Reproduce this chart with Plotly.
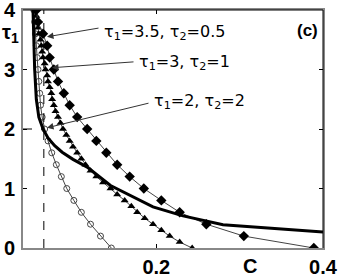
import plotly.graph_objects as go

# tau values for the marker series
tau_02 = [4.0, 3.8, 3.6, 3.4, 3.2, 3.0, 2.8, 2.6, 2.4, 2.2, 2.0,
          1.8, 1.6, 1.4, 1.2, 1.0, 0.8, 0.6, 0.4, 0.2, 0.0]
tau_01 = [4.0, 3.9, 3.8, 3.7, 3.6, 3.5, 3.4, 3.3, 3.2, 3.1, 3.0,
          2.9, 2.8, 2.7, 2.6, 2.5, 2.4, 2.3, 2.2, 2.1, 2.0,
          1.9, 1.8, 1.7, 1.6, 1.5, 1.4, 1.3, 1.2, 1.1, 1.0,
          0.9, 0.8, 0.7, 0.6, 0.5, 0.4, 0.3, 0.2, 0.1, 0.0]

# tau1=3.5, tau2=0.5 (diamonds)
c_diam = [0.056, 0.058, 0.064, 0.069, 0.072, 0.077, 0.082, 0.089, 0.096, 0.105, 0.117,
          0.128, 0.140, 0.153, 0.168, 0.185, 0.206, 0.228, 0.260, 0.305, 0.389]
# tau1=3, tau2=1 (triangles)
c_tri = [0.055, 0.056, 0.057, 0.058, 0.059, 0.061, 0.062, 0.063, 0.064, 0.066, 0.067,
         0.069, 0.070, 0.072, 0.074, 0.075, 0.077, 0.079, 0.082, 0.085, 0.088,
         0.092, 0.096, 0.100, 0.105, 0.110, 0.115, 0.121, 0.128, 0.136, 0.145,
         0.153, 0.162, 0.170, 0.177, 0.186, 0.196, 0.206, 0.216, 0.228, 0.243]
# tau1=2, tau2=2 (circles)
c_circ = [0.053, 0.054, 0.055, 0.056, 0.057, 0.058, 0.059, 0.060, 0.061, 0.063, 0.066,
          0.070, 0.0745, 0.080, 0.086, 0.0925, 0.101, 0.110, 0.121, 0.133, 0.146]

# thick boundary curve
c_thick = [0.052, 0.053, 0.054, 0.056, 0.059, 0.064, 0.070, 0.078, 0.087, 0.100, 0.117,
           0.145, 0.168, 0.196, 0.232, 0.280, 0.400]
tau_thick = [4.0, 3.5, 3.0, 2.5, 2.2, 2.0, 1.85, 1.72, 1.61, 1.49, 1.36,
             1.05, 0.89, 0.69, 0.54, 0.39, 0.27]

# dashed reference point
c_ref = 0.065
tau_ref = 2.0

x_ticks = [0.2, 0.4]
x_ticklabels = ["0.2", "0.4"]
y_ticks = [0, 1, 2, 3, 4]

labels = ["τ<sub>1</sub>=3.5, τ<sub>2</sub>=0.5",
          "τ<sub>1</sub>=3, τ<sub>2</sub>=1",
          "τ<sub>1</sub>=2, τ<sub>2</sub>=2"]
arrow_tips = [(0.0688, 3.55), (0.0748, 3.03), (0.0688, 2.02)]
arrow_tails = [(0.1324, 3.70), (0.1744, 3.13), (0.1924, 2.44)]
label_pos = [(0.1348, 3.63), (0.1768, 3.11), (0.1948, 2.46)]

fig = go.Figure()

thin = dict(color="#444444", width=1)
fig.add_trace(go.Scatter(x=c_circ, y=tau_02, mode="lines+markers", line=thin,
                         marker=dict(symbol="circle-open", size=6, color="#444444",
                                     line=dict(width=1))))
fig.add_trace(go.Scatter(x=c_tri, y=tau_01, mode="lines+markers", line=thin,
                         marker=dict(symbol="triangle-up", size=7, color="black")))
fig.add_trace(go.Scatter(x=c_diam, y=tau_02, mode="lines+markers", line=thin,
                         marker=dict(symbol="diamond", size=8, color="black")))
fig.add_trace(go.Scatter(x=c_thick, y=tau_thick, mode="lines",
                         line=dict(color="black", width=3)))

# dashed reference lines
fig.add_shape(type="line", x0=c_ref, x1=c_ref, y0=0, y1=4, xref="x", yref="y",
              line=dict(color="black", width=1, dash="dash"))
fig.add_shape(type="line", x0=0.04, x1=c_ref, y0=tau_ref, y1=tau_ref, xref="x", yref="y",
              line=dict(color="black", width=1, dash="dash"))

# top / right black borders
fig.add_shape(type="line", x0=0, x1=1, y0=1, y1=1, xref="paper", yref="paper",
              line=dict(color="black", width=1))
fig.add_shape(type="line", x0=1, x1=1, y0=0, y1=1, xref="paper", yref="paper",
              line=dict(color="black", width=1))

anns = []
for (tx, ty), (ax, ay) in zip(arrow_tips, arrow_tails):
    anns.append(dict(x=tx, y=ty, ax=ax, ay=ay, xref="x", yref="y", axref="x", ayref="y",
                     text="", showarrow=True, arrowhead=2, arrowsize=1.3, arrowwidth=1,
                     arrowcolor="#333333"))
for txt, (lx, ly) in zip(labels, label_pos):
    anns.append(dict(x=lx, y=ly, xref="x", yref="y", text=txt, showarrow=False,
                     xanchor="left", yanchor="middle",
                     font=dict(family="DejaVu Sans", size=16, color="black")))
anns.append(dict(x=0.99, y=0.915, xref="paper", yref="paper", text="<b>(c)</b>",
                 showarrow=False, xanchor="right", yanchor="middle",
                 font=dict(family="Liberation Sans", size=17, color="black")))
anns.append(dict(x=0.757, y=-0.075, xref="paper", yref="paper", text="<b>C</b>",
                 showarrow=False, xanchor="center", yanchor="middle",
                 font=dict(family="Liberation Sans", size=20, color="black")))
anns.append(dict(x=-0.077, y=0.90, xref="paper", yref="paper", text="<b>τ<sub>1</sub></b>",
                 showarrow=False, xanchor="left", yanchor="middle",
                 font=dict(family="Liberation Sans", size=20, color="black")))

fig.update_layout(
    width=341, height=280,
    margin=dict(l=23, r=18, t=10, b=32, autoexpand=False),
    paper_bgcolor="white", plot_bgcolor="white",
    showlegend=False,
    annotations=anns,
    font=dict(family="Liberation Sans", size=20, color="black"),
    xaxis=dict(range=[0.04, 0.4], tickvals=x_ticks, ticktext=["<b>%s</b>" % t for t in x_ticklabels],
               ticks="inside", ticklen=4, tickcolor="black", showgrid=False, zeroline=False,
               showline=True, linecolor="#888888", linewidth=2, mirror="ticks", automargin=False,
               ticklabeloverflow="allow"),
    yaxis=dict(range=[0, 4], tickvals=y_ticks, ticktext=["<b>%d</b>" % v for v in y_ticks],
               ticks="inside", ticklen=4, tickcolor="black", showgrid=False, zeroline=False,
               showline=True, linecolor="#888888", linewidth=2, mirror="ticks", automargin=False,
               ticklabeloverflow="allow", ticklabelstandoff=2),
)

fig.write_html("out.html", config={"displayModeBar": False},
               post_script="document.body.style.margin='0';document.body.style.overflow='hidden';")
